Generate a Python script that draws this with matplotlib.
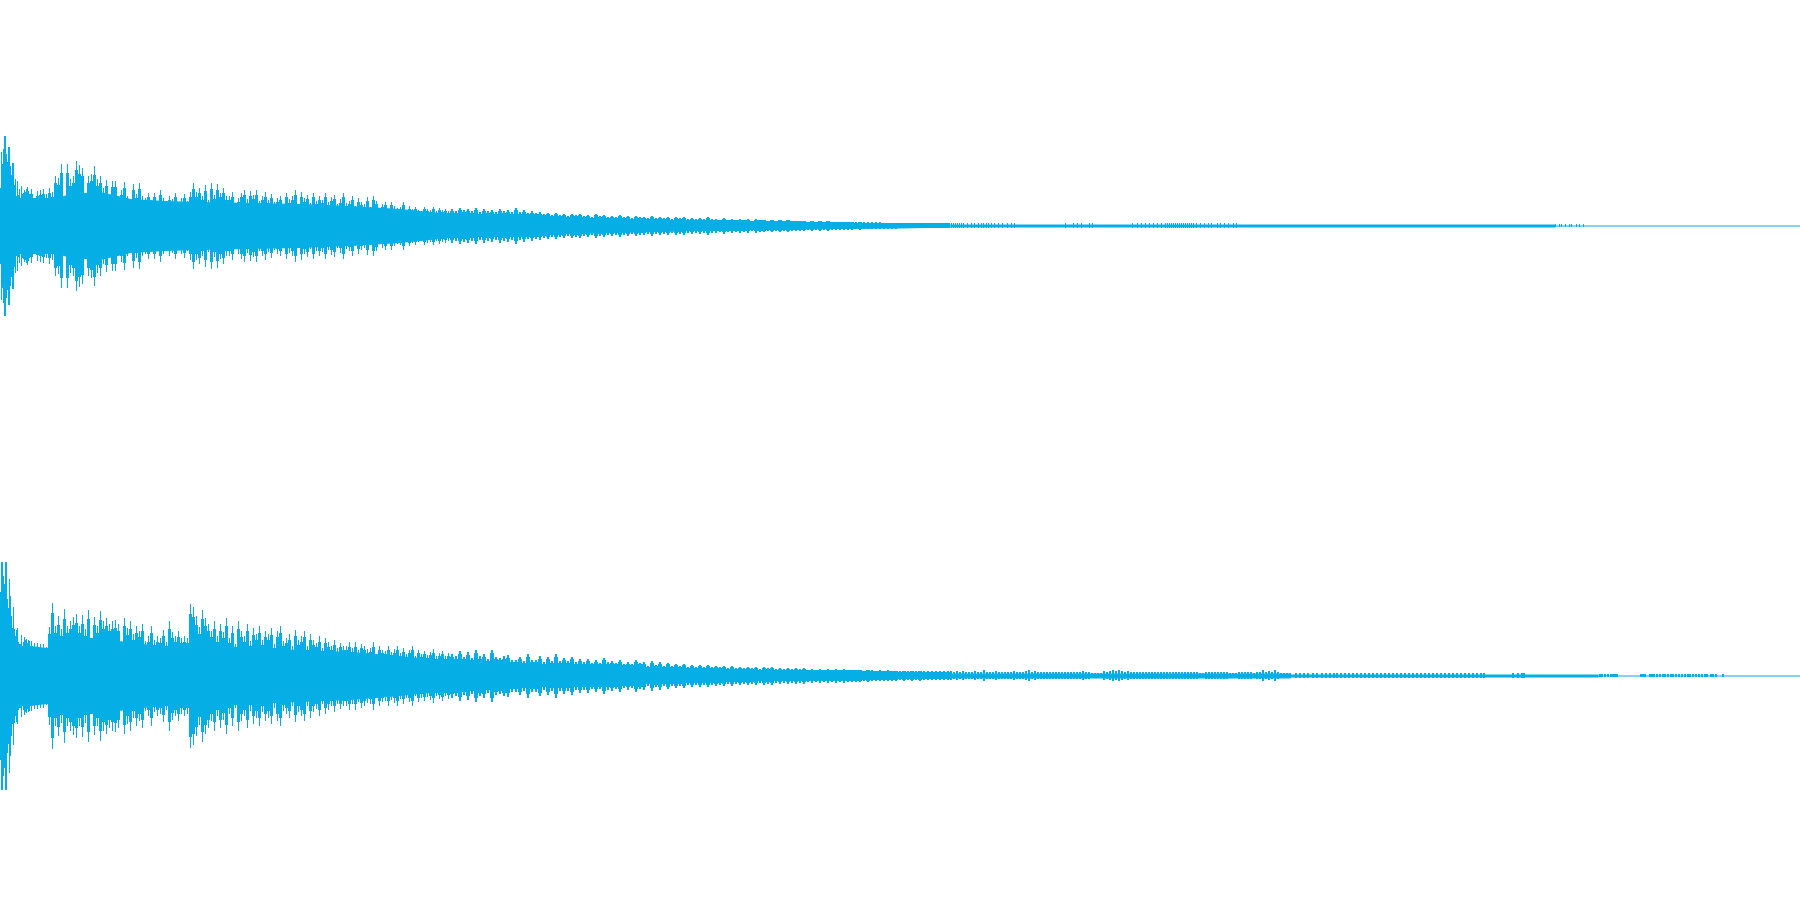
import matplotlib
matplotlib.use('Agg')
import matplotlib.pyplot as plt
import numpy as np

COLOR = '#06aee6'

# peak amplitude, in pixels from the channel centre
# first 30 columns one by one, then every 3 columns up to 450, every 4 up to 950
top_head = [38, 74, 62, 77, 90, 90, 72, 64, 79, 79, 60, 51, 63, 63, 41, 47, 30, 45, 31, 37,
            21, 40, 32, 33, 36, 34, 37, 39, 35, 32]
top_mid = [37, 28, 35, 36, 37, 32, 38, 34, 50, 48,
           62, 29, 62, 47, 50, 65, 61, 58, 26, 50,
           52, 60, 47, 50, 38, 46, 30, 45, 45, 30,
           36, 44, 30, 19, 42, 32, 43, 30, 28, 33,
           26, 33, 25, 36, 28, 24, 30, 27, 33, 23,
           28, 32, 25, 34, 43, 34, 38, 30, 41, 26,
           43, 31, 42, 33, 38, 30, 30, 34, 15, 28,
           33, 36, 27, 35, 31, 36, 25, 30, 34, 26,
           32, 24, 28, 30, 22, 33, 27, 30, 36, 22,
           34, 28, 31, 23, 33, 25, 30, 26, 33, 24,
           29, 31, 22, 27, 33, 23, 25, 30, 20, 28,
           24, 22, 29, 19, 30, 25, 18, 22, 24, 17,
           24, 20, 18, 19, 24, 16, 20, 17, 19, 16,
           15, 19, 17, 16, 19, 15, 18, 16, 17, 15]
top_tail = [17, 15, 18, 16, 17, 15, 18, 14, 17, 15, 16, 14, 17, 15, 16, 14, 18, 14, 16, 13,
            15, 13, 14, 12, 13, 11, 13, 11, 12, 10, 12, 11, 12, 10, 11, 9, 12, 10, 11, 9,
            10, 9, 11, 9, 10, 8, 10, 9, 9, 8, 10, 8, 9, 8, 9, 7, 9, 8, 9, 7,
            8, 7, 8, 7, 9, 7, 7, 6, 8, 6, 7, 6, 7, 6, 7, 5, 7, 6, 6, 5,
            6, 5, 6, 5, 6, 5, 5, 5, 5, 4, 5, 4, 5, 4, 5, 4, 4, 4, 4, 4,
            4, 3.5, 4, 3.5, 3.5, 3.5, 3.5, 3.5, 3, 3, 3, 3, 2.5, 2.5, 2.5, 2.5, 2.5, 2.5, 2.5, 2.5,
            2.5, 2.5, 2.5, 2.5, 2.5]
top_spike_x = [951, 953, 955, 957, 959, 961, 963, 967, 971, 974, 978, 981, 983, 986, 988, 991,
               994, 998, 1002, 1007, 1011, 1014, 1065, 1073, 1077, 1081, 1089, 1092,
               1132, 1137, 1141, 1145, 1149, 1153, 1157, 1161, 1165, 1167, 1169, 1171, 1173,
               1175, 1177, 1179, 1181, 1183, 1185, 1187, 1189, 1191, 1193, 1196, 1200, 1204,
               1208, 1211, 1217, 1220, 1224, 1228, 1233, 1236]
top_block_x = [1555, 1559, 1561, 1565, 1569, 1571, 1576, 1579, 1583]

bottom_head = [84, 114, 114, 100, 92, 114, 114, 77, 68, 97, 80, 60, 48, 69, 47, 40, 46, 48, 34, 32,
               32, 41, 30, 34, 39, 36, 37, 33, 36, 35]
bottom_mid = [35, 33, 33, 32, 32, 29, 49, 73, 50, 60,
              47, 67, 50, 55, 59, 62, 50, 61, 47, 66,
              35, 59, 50, 65, 55, 58, 52, 55, 56, 52,
              35, 58, 48, 55, 42, 50, 45, 52, 35, 40,
              50, 36, 40, 38, 46, 34, 55, 44, 40, 45,
              38, 40, 38, 72, 69, 60, 49, 66, 58, 52,
              45, 55, 40, 52, 44, 58, 38, 50, 32, 55,
              45, 40, 52, 35, 48, 42, 50, 36, 45, 42,
              48, 32, 45, 50, 35, 38, 42, 30, 46, 36,
              40, 45, 30, 42, 36, 33, 40, 28, 38, 34,
              30, 36, 28, 33, 30, 30, 34, 28, 34, 26,
              32, 30, 27, 28, 34, 22, 30, 26, 25, 30,
              24, 27, 30, 23, 28, 22, 26, 30, 20, 26,
              22, 25, 21, 24, 27, 20, 23, 25, 20, 23]
bottom_tail = [22, 20, 25, 19, 24, 18, 26, 20, 22, 17, 26, 19, 18, 20, 21, 16, 16, 19, 15, 22,
               16, 16, 20, 14, 19, 15, 22, 15, 18, 15, 19, 14, 17, 14, 17, 13, 16, 13, 18, 14,
               15, 13, 16, 12, 14, 12, 16, 13, 14, 10, 15, 11, 14, 10, 13, 10, 12, 10, 12, 9,
               11, 9, 11, 9, 11, 9, 10, 9, 10, 8, 10, 8, 9, 8, 9, 8, 9, 7, 9, 8,
               9, 7, 8, 7, 8, 7, 8, 7, 8, 6, 7, 6, 7, 6, 7, 6, 7, 6, 7, 6,
               6, 6, 6, 5, 6, 5.5, 5, 5.5, 5, 5.5, 5, 5, 4.5, 5, 4.5, 5, 4.5, 5, 4.5, 4.5,
               4.5, 4.5, 4.5, 4.5, 4.5]
# every 3 columns from 950 to 1290
bottom_far = [4.5, 3.5, 4.5, 3.5, 4.5, 3.5, 3.5, 3.5, 4.5, 3.5, 3.5, 5.5, 3.5, 3.5, 3.5, 4.5, 3.5, 3.5, 3.5, 3.5,
              3.5, 4.5, 3.5, 3.5, 3.5, 4.5, 5.5, 3.5, 4.5, 3.5, 3.5, 3.5, 3.5, 3.5, 3.5, 3.5, 3.5, 3.5, 3.5, 3.5,
              3.5, 3.5, 3.5, 3.5, 4.5, 3.5, 3.5, 2.5, 2.5, 2.5, 2.5, 4.5, 3.5, 4.5, 5.5, 4.5, 5.5, 4.5, 3.5, 4.5,
              3.5, 3.5, 3.5, 3.5, 3.5, 3.5, 3.5, 3.5, 3.5, 3.5, 3.5, 3.5, 3.5, 3.5, 3.5, 3.5, 3.5, 3.5, 3.5, 3.5,
              3.5, 3.5, 3.5, 2.5, 2.5, 3.5, 3.5, 3.5, 3.5, 3.5, 3.5, 3.5, 3.5, 2.5, 2.5, 2.5, 3.5, 3.5, 3.5, 3.5,
              3.5, 2.5, 3.5, 3.5, 5.5, 3.5, 4.5, 3.5, 5.5, 3.5, 2.5, 2.5, 2.5, 2.5]
bottom_spike_x = [1295, 1299, 1303, 1307, 1312, 1316, 1321, 1325, 1329, 1333, 1336, 1340, 1344,
                  1348, 1352, 1356, 1360, 1364, 1368, 1372, 1376, 1380, 1384, 1388, 1392, 1396,
                  1400, 1404, 1408, 1412, 1416, 1420, 1424, 1428, 1432, 1436, 1440, 1444, 1448,
                  1452, 1456, 1460, 1464, 1468, 1472, 1476, 1480, 1483,
                  1512, 1517, 1521, 1523]
bottom_block_x = [1599, 1601, 1604, 1607, 1610, 1612, 1614, 1616, 1640, 1641, 1642, 1644,
                  1649, 1651, 1653, 1656, 1659, 1662, 1664, 1667, 1670, 1672, 1675, 1678, 1681,
                  1684, 1687, 1689, 1692, 1695, 1698, 1701, 1704, 1706, 1710, 1712, 1715, 1722]

# solid part under the spikes: knot position and half height
body_x = [0, 30, 47, 50, 70, 100, 130, 165, 200, 250, 300, 350, 400, 450, 530, 620, 700, 800, 900, 950]
top_body = [28, 28, 28, 26, 32, 34, 27, 25, 24, 23, 22, 20, 17, 12, 9, 7, 5, 3.5, 2.5, 1.5]
bottom_body = [30, 30, 28, 32, 38, 38, 33, 30, 32, 28, 26, 24, 20, 15, 11, 8, 6, 4.5, 3, 2.5]
top_band_x = [950, 1555, 1555.1, 1800]
top_band = [1.5, 1.5, 0.5, 0.5]
bottom_band_x = [950, 1290, 1290.1, 1598, 1598.1, 1800]
bottom_band = [2.5, 2.5, 1.5, 1.5, 0.5, 0.5]


def draw_bars(ax, x, amp, width):
    amp = np.array(amp, dtype=float)
    ax.bar(x, 2 * amp, bottom=-amp, width=width, align='edge', color=COLOR,
           linewidth=0, antialiased=False)


def draw_channel(ax, head, mid, tail, body, band_x, band):
    ax.fill_between(body_x, -np.array(body), body, color=COLOR, linewidth=0, antialiased=False)
    ax.fill_between(band_x, -np.array(band), band, color=COLOR, linewidth=0, antialiased=False)
    mid = np.array(mid, dtype=float)
    tail = np.array(tail, dtype=float)
    draw_bars(ax, np.arange(len(head)), head, 1)
    # a wide shoulder with a thin tip, the columns between two readings sit a little lower
    draw_bars(ax, 30 + 3 * np.arange(len(mid)), mid * 0.85, 3)
    draw_bars(ax, 31 + 3 * np.arange(len(mid)), mid, 1)
    draw_bars(ax, 450 + 4 * np.arange(len(tail)), tail * 0.85, 4)
    draw_bars(ax, 451 + 4 * np.arange(len(tail)), tail, 2)
    ax.set_xlim(0, 1800)
    ax.set_ylim(-224.5, 225.5)
    ax.axis('off')


fig = plt.figure(figsize=(18, 9), dpi=100)
ax_top = fig.add_axes([0, 0.5, 1, 0.5])
ax_bottom = fig.add_axes([0, 0, 1, 0.5])

draw_channel(ax_top, top_head, top_mid, top_tail, top_body, top_band_x, top_band)
draw_bars(ax_top, top_spike_x, [2.5] * len(top_spike_x), 1)
draw_bars(ax_top, top_block_x, [1.5] * len(top_block_x), 1)

draw_channel(ax_bottom, bottom_head, bottom_mid, bottom_tail, bottom_body, bottom_band_x, bottom_band)
draw_bars(ax_bottom, 950 + 3 * np.arange(len(bottom_far)), bottom_far, 2)
draw_bars(ax_bottom, bottom_spike_x, [2.5] * len(bottom_spike_x), 2)
draw_bars(ax_bottom, bottom_block_x, [1.5] * len(bottom_block_x), 2)

fig.savefig('out.png', dpi=100, facecolor='white')
plt.close()
